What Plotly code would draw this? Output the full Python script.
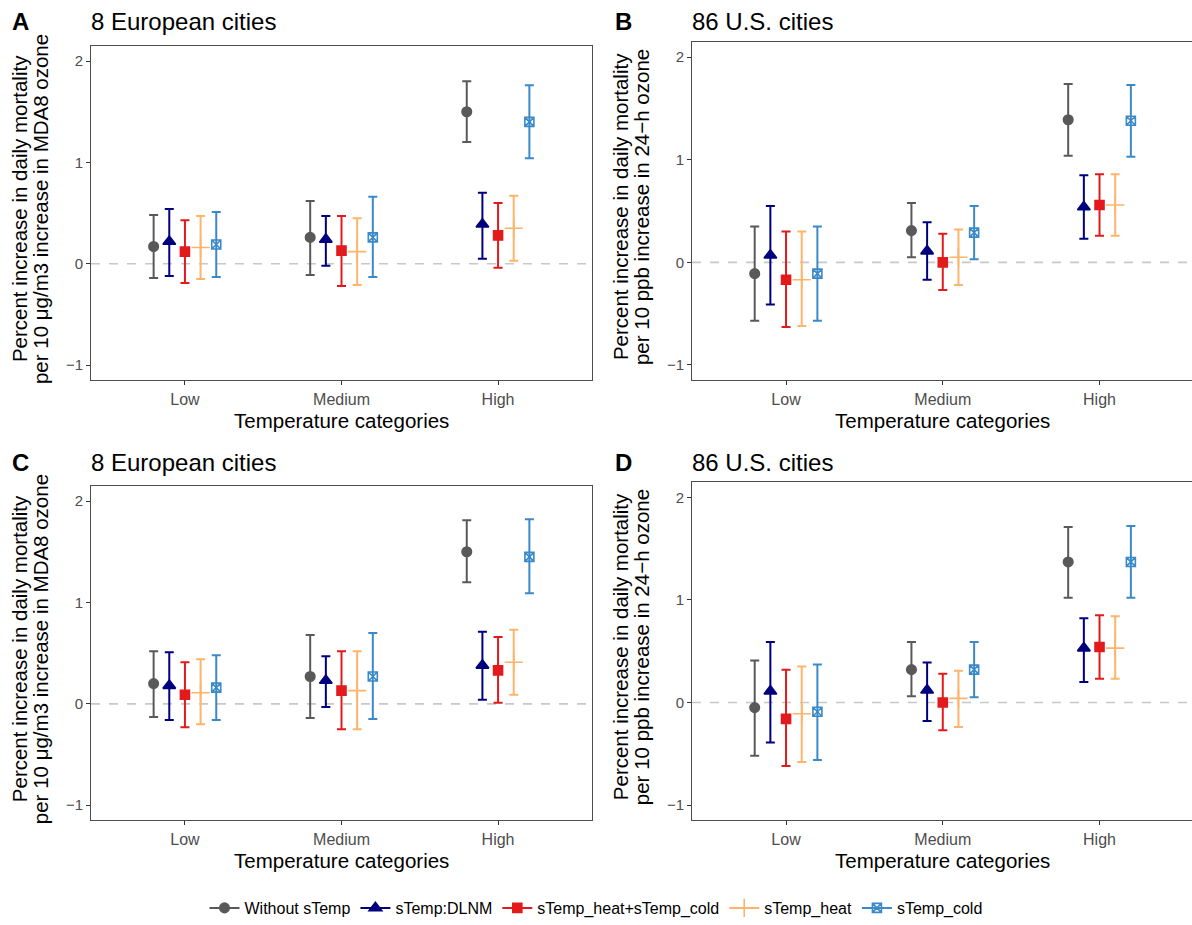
import plotly.graph_objects as go

categories = ["Low", "Medium", "High"]
series_names = ["Without sTemp", "sTemp:DLNM", "sTemp_heat+sTemp_cold", "sTemp_heat", "sTemp_cold"]
series_colors = ["#595959", "#00007F", "#E31A1C", "#FDB46B", "#3A89C9"]
series_symbols = ["circle", "triangle-up", "square", "cross-thin-open", "square-x-open"]
series_sizes = [9.5, 11, 9, 13, 9]
dodge = [-0.2, -0.1, 0.0, 0.1, 0.2]
y_ticks = [-1, 0, 1, 2]

# Panel A: 8 European cities (MDA8), rows = series, cols = Low/Medium/High
A_est = [[0.17, 0.26, 1.50], [0.22, 0.24, 0.39], [0.12, 0.13, 0.28], [0.16, 0.12, 0.35], [0.19, 0.26, 1.40]]
A_lo = [[-0.14, -0.11, 1.20], [-0.12, -0.02, 0.05], [-0.19, -0.22, -0.04], [-0.15, -0.21, 0.03], [-0.13, -0.13, 1.04]]
A_hi = [[0.48, 0.62, 1.80], [0.54, 0.47, 0.70], [0.43, 0.47, 0.60], [0.47, 0.45, 0.67], [0.51, 0.66, 1.76]]

# Panel B: 86 U.S. cities (24-h)
B_est = [[-0.11, 0.31, 1.39], [0.07, 0.11, 0.54], [-0.17, 0.00, 0.56], [-0.17, 0.05, 0.56], [-0.11, 0.29, 1.38]]
B_lo = [[-0.57, 0.05, 1.04], [-0.41, -0.17, 0.23], [-0.63, -0.27, 0.26], [-0.62, -0.22, 0.26], [-0.57, 0.03, 1.03]]
B_hi = [[0.35, 0.58, 1.74], [0.55, 0.39, 0.85], [0.30, 0.28, 0.86], [0.30, 0.32, 0.86], [0.35, 0.55, 1.73]]

# Panel C: 8 European cities (MDA8)
C_est = [[0.20, 0.27, 1.50], [0.18, 0.23, 0.38], [0.09, 0.13, 0.33], [0.11, 0.13, 0.41], [0.16, 0.27, 1.45]]
C_lo = [[-0.13, -0.14, 1.20], [-0.16, -0.03, 0.04], [-0.23, -0.25, 0.01], [-0.20, -0.25, 0.09], [-0.16, -0.15, 1.09]]
C_hi = [[0.52, 0.68, 1.81], [0.51, 0.47, 0.71], [0.41, 0.52, 0.66], [0.44, 0.52, 0.73], [0.48, 0.70, 1.82]]

# Panel D: 86 U.S. cities (24-h)
D_est = [[-0.05, 0.32, 1.37], [0.11, 0.12, 0.53], [-0.16, 0.00, 0.54], [-0.11, 0.04, 0.53], [-0.09, 0.32, 1.37]]
D_lo = [[-0.52, 0.06, 1.02], [-0.39, -0.18, 0.20], [-0.62, -0.27, 0.23], [-0.58, -0.24, 0.23], [-0.56, 0.05, 1.02]]
D_hi = [[0.41, 0.59, 1.71], [0.59, 0.39, 0.82], [0.32, 0.28, 0.85], [0.35, 0.31, 0.84], [0.37, 0.59, 1.72]]

W, H = 1192, 925
FONT = "Liberation Sans, Arial, Helvetica, sans-serif"

panels = [
    dict(key="", est=A_est, lo=A_lo, hi=A_hi, letter="A", title="8 European cities",
         ytitle=["Percent increase in daily mortality", "per 10 μg/m3 increase in MDA8 ozone"],
         left=91, right=592, top=46, bottom=382, title_y=22, letter_x=10,
         xr=[-0.6, 2.6], mirror=True),
    dict(key="2", est=B_est, lo=B_lo, hi=B_hi, letter="B", title="86 U.S. cities",
         ytitle=["Percent increase in daily mortality", "per 10 ppb increase in 24−h ozone"],
         left=692, right=1192, top=42, bottom=382, title_y=22, letter_x=613,
         xr=[-0.6, 2.59], mirror=False),
    dict(key="3", est=C_est, lo=C_lo, hi=C_hi, letter="C", title="8 European cities",
         ytitle=["Percent increase in daily mortality", "per 10 μg/m3 increase in MDA8 ozone"],
         left=91, right=592, top=488, bottom=824, title_y=465, letter_x=10,
         xr=[-0.6, 2.6], mirror=True),
    dict(key="4", est=D_est, lo=D_lo, hi=D_hi, letter="D", title="86 U.S. cities",
         ytitle=["Percent increase in daily mortality", "per 10 ppb increase in 24−h ozone"],
         left=692, right=1192, top=484, bottom=824, title_y=465, letter_x=613,
         xr=[-0.6, 2.59], mirror=False),
]

fig = go.Figure()
annotations = []
shapes = []
layout_axes = {}

for p in panels:
    k = p["key"]
    xa, ya = "x" + k, "y" + k
    for s in range(5):
        xs = [i + dodge[s] for i in range(3)]
        est = p["est"][s]
        lo = p["lo"][s]
        hi = p["hi"][s]
        fig.add_trace(go.Scatter(
            x=xs, y=est, mode="markers", xaxis=xa, yaxis=ya, showlegend=False,
            marker=dict(symbol=series_symbols[s], size=series_sizes[s], color=series_colors[s],
                        line=dict(width=1.6, color=series_colors[s])),
            error_y=dict(type="data", symmetric=False,
                         array=[h - e for h, e in zip(hi, est)],
                         arrayminus=[e - l for e, l in zip(est, lo)],
                         color=series_colors[s], thickness=2, width=4.5),
            name=series_names[s],
        ))
    xdom = [p["left"] / W, min(p["right"] / W, 1.0)]
    ydom = [1 - p["bottom"] / H, 1 - p["top"] / H]
    layout_axes["xaxis" + k] = dict(
        domain=xdom, anchor=ya, range=p["xr"], tickmode="array", tickvals=[0, 1, 2],
        ticktext=categories, ticks="outside", ticklen=4, tickcolor="#333333", tickwidth=1,
        showgrid=False, zeroline=False, showline=True, linecolor="#4D4D4D", linewidth=1,
        mirror=True, tickfont=dict(family=FONT, size=16, color="#4D4D4D"))
    layout_axes["yaxis" + k] = dict(
        domain=ydom, anchor=xa, range=[-1.15, 2.15], tickmode="array", tickvals=y_ticks,
        ticktext=["−1", "0", "1", "2"], ticks="outside", ticklen=4, tickcolor="#333333",
        tickwidth=1, showgrid=False, zeroline=False, showline=True, linecolor="#4D4D4D",
        linewidth=1, mirror=p["mirror"], tickfont=dict(family=FONT, size=15, color="#4D4D4D"))
    shapes.append(dict(type="line", xref=xa + " domain", yref=ya, x0=0, x1=1, y0=0, y1=0,
                       line=dict(color="#C8C8C8", width=1.6, dash="dash"), layer="below"))
    # panel letter and title
    annotations.append(dict(text="<b>" + p["letter"] + "</b>", xref="paper", yref="paper",
                            x=p["letter_x"] / W, y=1 - p["title_y"] / H,
                            xanchor="left", yanchor="middle",
                            showarrow=False, font=dict(family=FONT, size=24, color="black")))
    annotations.append(dict(text=p["title"], xref="paper", yref="paper",
                            x=(p["left"] - 2) / W, y=1 - p["title_y"] / H,
                            xanchor="left", yanchor="middle", showarrow=False,
                            font=dict(family=FONT, size=24, color="black")))
    # y title (two lines)
    yc = (p["top"] + p["bottom"]) / 2 - 4
    for j, off in enumerate([-72, -51]):
        annotations.append(dict(text=p["ytitle"][j], xref="paper", yref="paper",
                                x=(p["left"] + off) / W, y=1 - yc / H,
                                xanchor="center", yanchor="middle", textangle=-90,
                                showarrow=False,
                                font=dict(family=FONT, size=20.5, color="black")))
    # x title
    annotations.append(dict(text="Temperature categories", xref="paper", yref="paper",
                            x=(p["left"] + 250) / W, y=1 - (p["bottom"] + 40) / H,
                            xanchor="center", yanchor="middle", showarrow=False,
                            font=dict(family=FONT, size=20.5, color="black")))

# legend entries
for s in range(5):
    fig.add_trace(go.Scatter(
        x=[None], y=[None], mode="lines+markers", name=series_names[s], showlegend=True,
        line=dict(color=series_colors[s], width=2),
        marker=dict(symbol=series_symbols[s], size=series_sizes[s], color=series_colors[s],
                    line=dict(width=1.6, color=series_colors[s])),
    ))

fig.update_layout(
    width=W, height=H, margin=dict(l=0, r=0, t=0, b=0),
    paper_bgcolor="white", plot_bgcolor="white",
    font=dict(family=FONT, color="black"),
    annotations=annotations, shapes=shapes,
    legend=dict(orientation="h", x=0.5, xanchor="center", y=1 - 912 / H, yanchor="middle",
                font=dict(family=FONT, size=16, color="black"), itemwidth=30,
                bgcolor="rgba(0,0,0,0)"),
    **layout_axes,
)

fig.write_html("out.html", config={"displayModeBar": False},
               post_script="document.body.style.margin='0px';document.body.style.padding='0px';")
